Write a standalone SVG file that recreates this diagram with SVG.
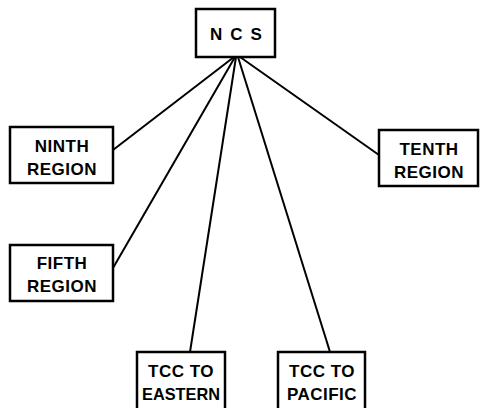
<svg xmlns="http://www.w3.org/2000/svg" width="488" height="408" viewBox="0 0 488 408">
<style>
.box{fill:#fff;stroke:#000;stroke-width:2.5}
.t{font-family:"Liberation Sans",Arial,sans-serif;font-weight:bold;font-size:17px;text-anchor:middle;fill:#000;letter-spacing:0.5px}
.c{stroke:#000;stroke-width:2;fill:none}
</style>
<rect width="488" height="408" fill="#fff"/>
<g id="connectors">
<line class="c" x1="234" y1="57" x2="113" y2="150"/>
<line class="c" x1="235" y1="57" x2="113" y2="268"/>
<line class="c" x1="236" y1="57" x2="190" y2="352"/>
<line class="c" x1="238" y1="57" x2="330" y2="352"/>
<line class="c" x1="240" y1="57" x2="379" y2="155"/>
</g>
<g id="ncs">
<rect class="box" x="196" y="9" width="79" height="48"/>
<text class="t" x="240" y="40" style="letter-spacing:8px">NCS</text>
</g>
<g id="ninth">
<rect class="box" x="10" y="127" width="103" height="56"/>
<text class="t" x="62" y="152">NINTH</text>
<text class="t" x="62" y="175">REGION</text>
</g>
<g id="fifth">
<rect class="box" x="10" y="245" width="103" height="56"/>
<text class="t" x="62" y="269">FIFTH</text>
<text class="t" x="62" y="292">REGION</text>
</g>
<g id="tenth">
<rect class="box" x="379" y="130" width="99" height="56"/>
<text class="t" x="429" y="155">TENTH</text>
<text class="t" x="429" y="178">REGION</text>
</g>
<g id="eastern">
<rect class="box" x="137" y="352" width="88" height="60"/>
<text class="t" x="181" y="377">TCC TO</text>
<text class="t" x="181" y="400" textLength="78" lengthAdjust="spacingAndGlyphs" style="letter-spacing:0">EASTERN</text>
</g>
<g id="pacific">
<rect class="box" x="278" y="352" width="87" height="60"/>
<text class="t" x="322" y="377">TCC TO</text>
<text class="t" x="322" y="400">PACIFIC</text>
</g>
</svg>
